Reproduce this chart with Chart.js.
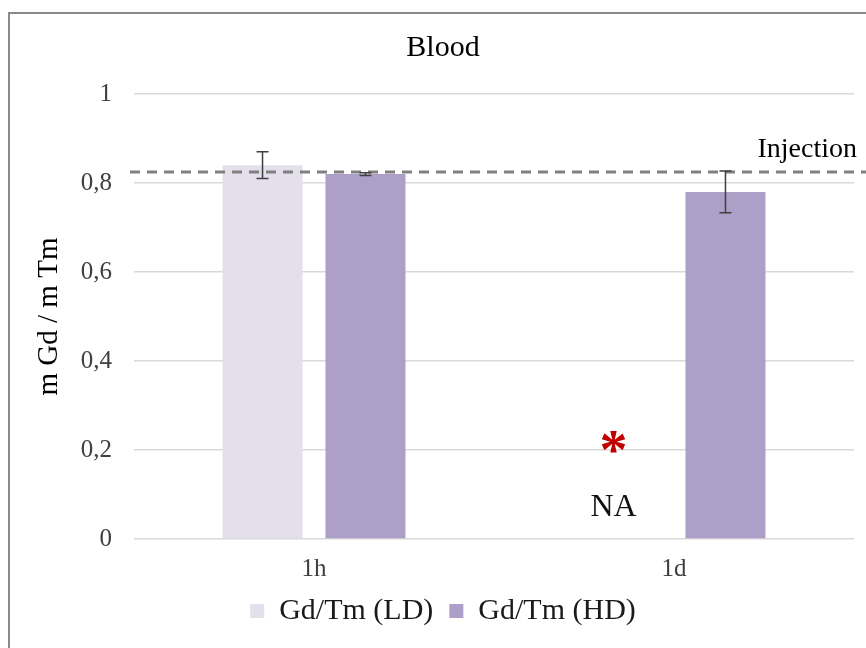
<!DOCTYPE html>
<html>
<head>
<meta charset="utf-8">
<script src="https://cdn.jsdelivr.net/npm/chart.js@4.4.1/dist/chart.umd.min.js"></script>
<style>
  html, body { margin: 0; padding: 0; background: #fff; overflow: hidden; width: 866px; height: 648px; }
  #box { position: absolute; left: 8px; top: 12px; width: 866px; height: 680px; border: 2px solid #8a8a8a; background: #fff; }
  canvas { display: block; }
</style>
</head>
<body>
<div id="box"><canvas id="c" width="866" height="680"></canvas></div>
<script>
const categories = ['1h', '1d'];
const seriesNames = ['Gd/Tm (LD)', 'Gd/Tm (HD)'];
const ldValues = [0.84, null];
const hdValues = [0.82, 0.78];
const ldErrors = [0.03, null];
const hdErrors = [0.003, 0.047];
const injectionLevel = 0.825;
const injectionLabel = 'Injection';
const naLabel = 'NA';
const naMarker = '*';
const yMin = 0, yMax = 1, yStep = 0.2;

const serif = "'Liberation Serif', 'Times New Roman', serif";

const overlay = {
  id: 'overlay',
  afterDatasetsDraw(chart) {
    const ctx = chart.ctx;
    const ys = chart.scales.y;
    const errs = [ldErrors, hdErrors];
    const vals = [ldValues, hdValues];
    ctx.save();
    // dashed injection line
    const yi = ys.getPixelForValue(injectionLevel);
    ctx.strokeStyle = '#808080';
    ctx.lineWidth = 3;
    ctx.setLineDash([10, 7]);
    ctx.beginPath();
    ctx.moveTo(chart.chartArea.left - 4, yi);
    ctx.lineTo(chart.width, yi);
    ctx.stroke();
    ctx.setLineDash([]);
    // error bars
    ctx.strokeStyle = '#3f3f3f';
    ctx.lineWidth = 1.5;
    for (let d = 0; d < 2; d++) {
      const meta = chart.getDatasetMeta(d);
      vals[d].forEach((v, i) => {
        if (v == null || errs[d][i] == null) return;
        const x = meta.data[i].x;
        const yt = ys.getPixelForValue(v + errs[d][i]);
        const yb = ys.getPixelForValue(v - errs[d][i]);
        ctx.beginPath();
        ctx.moveTo(x, yt); ctx.lineTo(x, yb);
        ctx.moveTo(x - 6, yt); ctx.lineTo(x + 6, yt);
        ctx.moveTo(x - 6, yb); ctx.lineTo(x + 6, yb);
        ctx.stroke();
      });
    }
    // Injection label
    ctx.fillStyle = '#000';
    ctx.font = '28px ' + serif;
    ctx.textAlign = 'right';
    ctx.textBaseline = 'middle';
    ctx.fillText(injectionLabel, chart.chartArea.right + 3, yi - 22);
    // NA annotation in the missing LD slot of 1d
    const m0 = chart.getDatasetMeta(0), m1 = chart.getDatasetMeta(1);
    const slotOffset = m1.data[0].x - m0.data[0].x;
    const xNA = m1.data[1].x - slotOffset - 9;
    ctx.textAlign = 'center';
    ctx.fillStyle = '#c00000';
    ctx.font = 'bold 56px ' + serif;
    ctx.textBaseline = 'middle';
    ctx.fillText(naMarker, xNA, ys.getPixelForValue(0.21) + 9);
    ctx.fillStyle = '#111';
    ctx.font = '32px ' + serif;
    ctx.fillText(naLabel, xNA, ys.getPixelForValue(0.07));
    ctx.restore();
  }
};

new Chart(document.getElementById('c'), {
  type: 'bar',
  data: {
    labels: categories,
    datasets: [
      { label: seriesNames[0], data: ldValues, backgroundColor: '#e3dfeb', categoryPercentage: 0.572, barPercentage: 0.777 },
      { label: seriesNames[1], data: hdValues, backgroundColor: '#ad9fc8', categoryPercentage: 0.572, barPercentage: 0.777 }
    ]
  },
  options: {
    responsive: false,
    animation: false,
    layout: { padding: { left: 22, right: 22, top: 0, bottom: 58 } },
    plugins: {
      title: {
        display: true, text: 'Blood', color: '#000',
        font: { family: serif, size: 30, weight: 'normal' },
        padding: { top: 16, bottom: 28 }
      },
      legend: {
        position: 'bottom',
        labels: {
          color: '#1a1a1a', boxWidth: 14, boxHeight: 14, padding: 16,
          font: { family: serif, size: 30 }
        }
      },
      tooltip: { enabled: false }
    },
    scales: {
      x: {
        grid: { display: false },
        border: { display: false },
        ticks: { color: '#404040', font: { family: serif, size: 25 }, padding: 7 },
        afterFit(s) { s.height = 41; }
      },
      y: {
        min: yMin, max: yMax,
        grid: { color: '#d9d9d9', lineWidth: 1.5, drawTicks: false },
        border: { display: false },
        ticks: {
          stepSize: yStep, color: '#404040', padding: 22,
          font: { family: serif, size: 25 },
          callback: v => String(Math.round(v * 10) / 10).replace('.', ',')
        },
        title: { display: true, text: 'm Gd / m Tm', color: '#000', font: { family: serif, size: 29 }, padding: { top: 0, bottom: 0 } },
        afterFit(s) { s.width = 102; }
      }
    }
  },
  plugins: [overlay]
});
</script>
</body>
</html>
